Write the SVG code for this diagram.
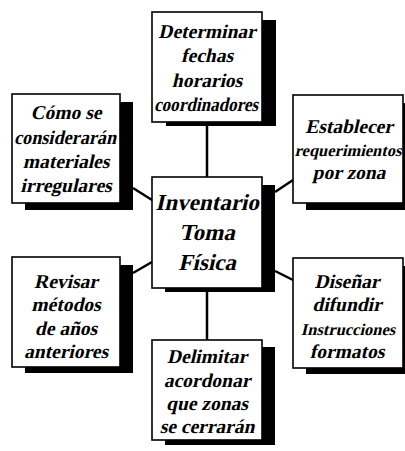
<svg xmlns="http://www.w3.org/2000/svg" width="405" height="451" viewBox="0 0 405 451">
<style>
.box{fill:#fff;stroke:#000;stroke-width:1.6}
.sh{fill:#000}
.t{font-family:"Liberation Serif","Times New Roman",serif;font-weight:bold;font-size:19.5px;text-anchor:middle;fill:#000}
.c{font-size:23px}
.s{font-size:16.5px}
.ln{stroke:#000;stroke-width:2.5;fill:none}
</style>
<g id="connectors">
<line class="ln" x1="207" y1="122" x2="207" y2="177"/>
<line class="ln" x1="207" y1="288" x2="207" y2="340"/>
<line class="ln" x1="133" y1="188" x2="152" y2="200"/>
<line class="ln" x1="275" y1="192" x2="293" y2="180"/>
<line class="ln" x1="133" y1="273" x2="152" y2="262"/>
<line class="ln" x1="275" y1="271" x2="293" y2="280"/>
</g>
<g id="top">
<rect class="sh" x="166" y="20" width="110" height="106"/>
<rect class="box" x="152" y="12" width="110" height="110"/>
<text class="t" transform="translate(207,38) skewX(-13)">Determinar</text>
<text class="t" transform="translate(207,62) skewX(-13)">fechas</text>
<text class="t" transform="translate(207,87) skewX(-13)">horarios</text>
<text class="t" transform="translate(206,111) skewX(-13)" textLength="104" lengthAdjust="spacingAndGlyphs">coordinadores</text>
</g>
<g id="left-top">
<rect class="sh" x="25" y="102" width="108" height="108"/>
<rect class="box" x="12" y="94" width="108" height="109"/>
<text class="t" transform="translate(66,119) skewX(-13)">Cómo se</text>
<text class="t" transform="translate(65,144) skewX(-13)" textLength="102" lengthAdjust="spacingAndGlyphs">considerarán</text>
<text class="t" transform="translate(66,168) skewX(-13)">materiales</text>
<text class="t" transform="translate(66,192) skewX(-13)">irregulares</text>
</g>
<g id="right-top">
<rect class="sh" x="306" y="103" width="99" height="107"/>
<rect class="box" x="293" y="95" width="110" height="108"/>
<text class="t" transform="translate(349,133) skewX(-13)">Establecer</text>
<text class="t s" transform="translate(348,156) skewX(-13)">requerimientos</text>
<text class="t" transform="translate(349,179) skewX(-13)">por zona</text>
</g>
<g id="center">
<rect class="sh" x="165" y="185" width="110" height="107"/>
<rect class="box" x="152" y="177" width="110" height="111"/>
<text class="t c" transform="translate(207,210) skewX(-13)">Inventario</text>
<text class="t c" transform="translate(207,240) skewX(-13)">Toma</text>
<text class="t c" transform="translate(207,270) skewX(-13)">Física</text>
</g>
<g id="left-bottom">
<rect class="sh" x="25" y="265" width="108" height="108"/>
<rect class="box" x="12" y="257" width="108" height="110"/>
<text class="t" transform="translate(66,288) skewX(-13)">Revisar</text>
<text class="t" transform="translate(66,311) skewX(-13)">métodos</text>
<text class="t" transform="translate(66,335) skewX(-13)">de años</text>
<text class="t" transform="translate(66,358) skewX(-13)">anteriores</text>
</g>
<g id="right-bottom">
<rect class="sh" x="306" y="266" width="99" height="108"/>
<rect class="box" x="293" y="258" width="110" height="110"/>
<text class="t" transform="translate(347,288) skewX(-13)">Diseñar</text>
<text class="t" transform="translate(347,311) skewX(-13)">difundir</text>
<text class="t s" transform="translate(348,335) skewX(-13)">Instrucciones</text>
<text class="t" transform="translate(347,358) skewX(-13)">formatos</text>
</g>
<g id="bottom">
<rect class="sh" x="165" y="347" width="110" height="98"/>
<rect class="box" x="152" y="340" width="110" height="100"/>
<text class="t" transform="translate(207,363) skewX(-13)">Delimitar</text>
<text class="t" transform="translate(207,387) skewX(-13)">acordonar</text>
<text class="t" transform="translate(207,410) skewX(-13)">que zonas</text>
<text class="t" transform="translate(207,433) skewX(-13)">se cerrarán</text>
</g>
</svg>
